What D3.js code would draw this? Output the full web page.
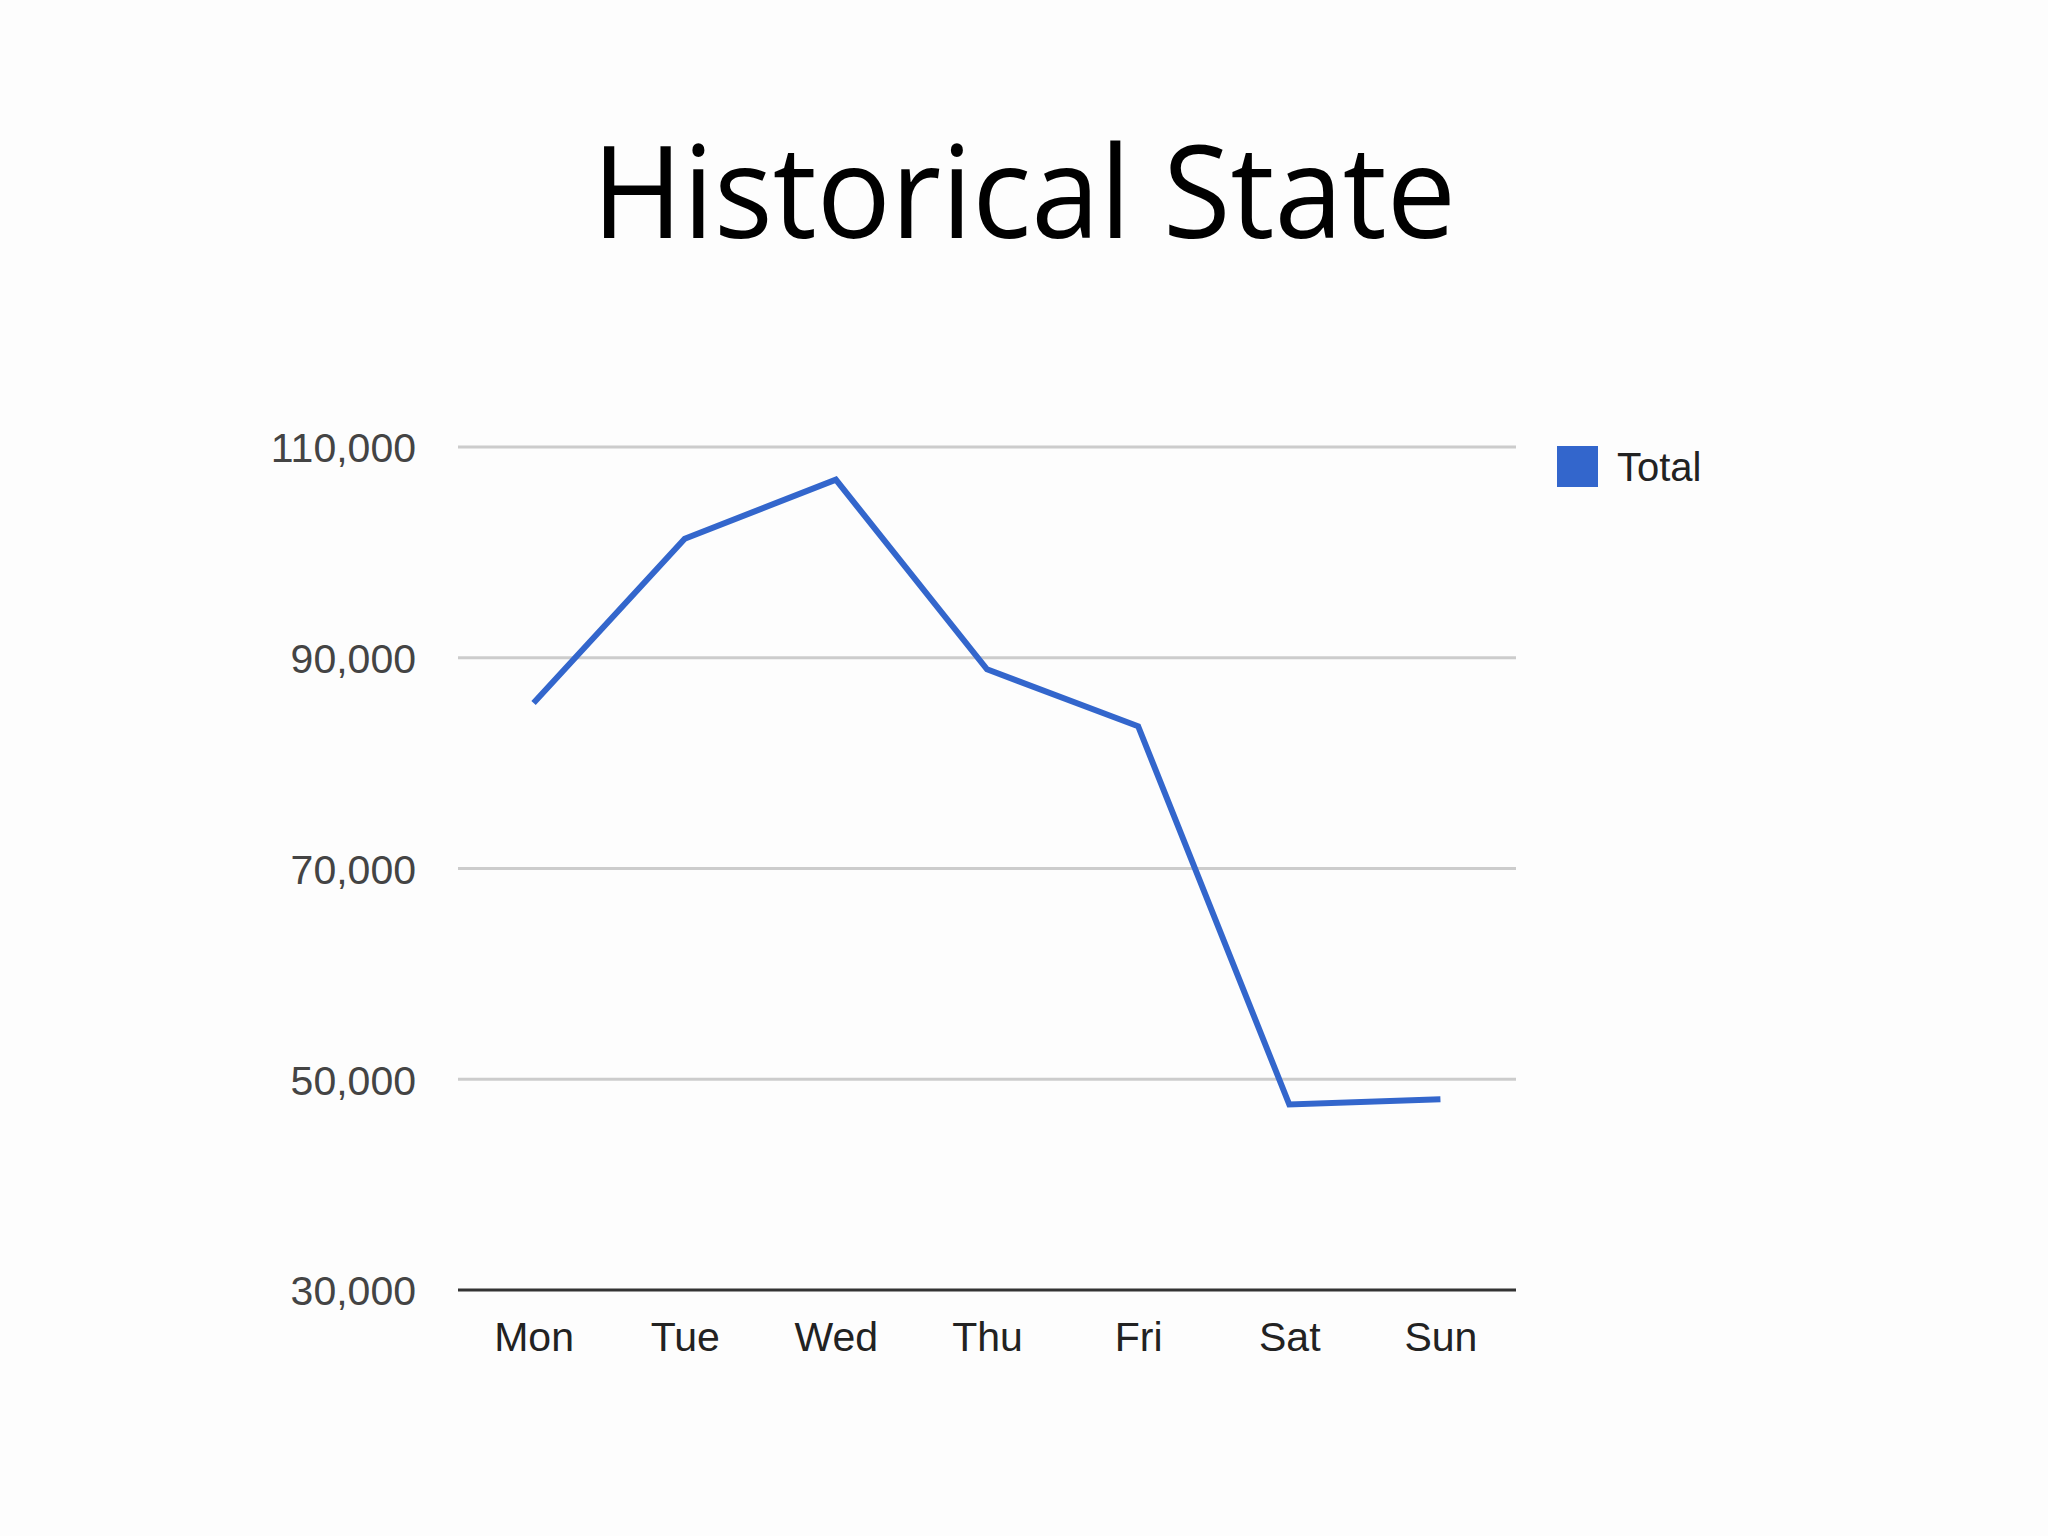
<!DOCTYPE html>
<html lang="en">
<head>
<meta charset="UTF-8">
<title>Historical State</title>
<style>
body {
  margin: 0;
  background: #fdfdfd;
}
.title {
  font-family: 'Open Sans', sans-serif;
  font-size: 128px;
  fill: #000;
}
.tick text {
  font-family: 'Liberation Sans', Arial, sans-serif;
}
</style>
</head>
<body>
<div id="chart"></div>
<script src="https://cdnjs.cloudflare.com/ajax/libs/d3/7.8.5/d3.min.js"></script>
<script>

var days = ["Mon", "Tue", "Wed", "Thu", "Fri", "Sat", "Sun"];
var totals = [85700, 101300, 106900, 88900, 83500, 47600, 48100];
var yTicks = [30000, 50000, 70000, 90000, 110000];
var seriesName = "Total";

var width = 2048;
var height = 1536;

var svg = d3.select('#chart')
  .append('svg')
  .attr('width', width)
  .attr('height', height);

svg.append('rect')
  .attr('width', width)
  .attr('height', height)
  .attr('fill', '#fdfdfd');

svg.append('text')
  .attr('class', 'title')
  .attr('x', 1024)
  .attr('y', 238)
  .attr('text-anchor', 'middle')
  .attr('textLength', 864)
  .attr('lengthAdjust', 'spacingAndGlyphs')
  .text('Historical State');

var x = d3.scalePoint()
  .domain(days)
  .range([458, 1516])
  .padding(0.5);

var y = d3.scaleLinear()
  .domain([30000, 110000])
  .range([1290, 447]);

// gridlines
svg.append('g')
  .selectAll('line')
  .data(yTicks.slice(1))
  .enter()
  .append('line')
  .attr('x1', 458)
  .attr('x2', 1516)
  .attr('y1', function (d) { return y(d); })
  .attr('y2', function (d) { return y(d); })
  .attr('stroke', '#cccccc')
  .attr('stroke-width', 3);

// y axis labels
var yAxis = d3.axisLeft(y)
  .tickValues(yTicks)
  .tickSize(0)
  .tickPadding(0)
  .tickFormat(d3.format(','));

var yg = svg.append('g')
  .attr('transform', 'translate(416,0)')
  .call(yAxis);
yg.select('.domain').remove();
yg.selectAll('text')
  .attr('fill', '#444')
  .style('font-size', '41px')
  .attr('dy', '0.36em');

// baseline
svg.append('line')
  .attr('x1', 458)
  .attr('x2', 1516)
  .attr('y1', y(30000))
  .attr('y2', y(30000))
  .attr('stroke', '#333')
  .attr('stroke-width', 3);

// x axis labels
var xAxis = d3.axisBottom(x)
  .tickSize(0)
  .tickPadding(0);

var xg = svg.append('g')
  .attr('transform', 'translate(0,1322)')
  .call(xAxis);
xg.select('.domain').remove();
xg.selectAll('text')
  .attr('fill', '#222')
  .style('font-size', '41px')
  .attr('dy', '0.71em');

// line
var line = d3.line()
  .x(function (d, i) { return x(days[i]); })
  .y(function (d) { return y(d); });

svg.append('path')
  .datum(totals)
  .attr('d', line)
  .attr('fill', 'none')
  .attr('stroke', '#3366cc')
  .attr('stroke-width', 6)
  .attr('stroke-linejoin', 'miter');

// legend
var legend = svg.append('g')
  .attr('transform', 'translate(1557,446)');

legend.append('rect')
  .attr('width', 41)
  .attr('height', 41)
  .attr('fill', '#3366cc');

legend.append('text')
  .attr('x', 60)
  .attr('y', 35)
  .attr('fill', '#222')
  .style('font-family', "'Liberation Sans', Arial, sans-serif")
  .style('font-size', '40px')
  .text(seriesName);

</script>
</body>
</html>
